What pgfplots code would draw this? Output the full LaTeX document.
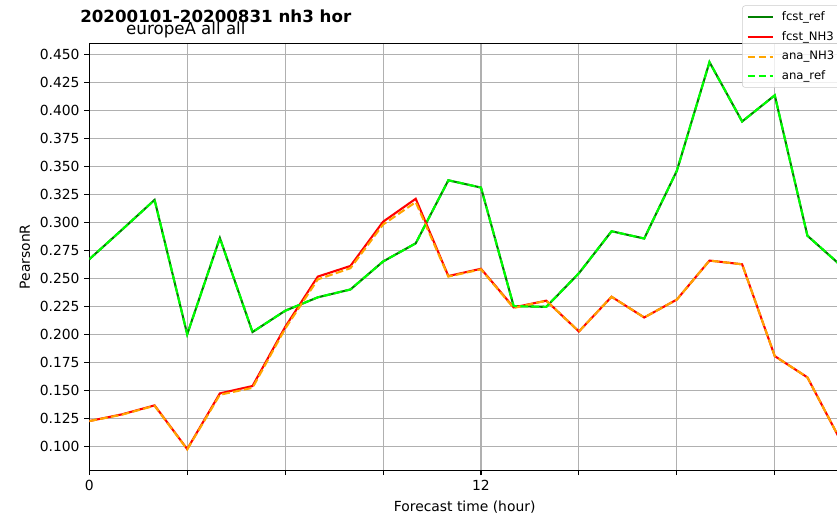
\documentclass[border=0pt]{standalone}
\usepackage{fontspec}
\setmainfont{DejaVu Sans}
\usepackage{pgfplots}
\usepackage{pgfplotstable}
\pgfplotsset{compat=1.18}

\definecolor{fcstref}{HTML}{008000}
\definecolor{fcstnh}{HTML}{FF0000}
\definecolor{ananh}{HTML}{FFA500}
\definecolor{anaref}{HTML}{00FF00}
\definecolor{gridgray}{HTML}{B0B0B0}

% PearsonR by forecast hour
\pgfplotstableread{
hour fcstref fcstnh ananh
0  0.2670 0.1225 0.1225
1  0.2933 0.1285 0.1282
2  0.3200 0.1365 0.1362
3  0.2000 0.0975 0.0972
4  0.2860 0.1472 0.1460
5  0.2020 0.1538 0.1522
6  0.2210 0.2065 0.2050
7  0.2330 0.2515 0.2490
8  0.2400 0.2610 0.2590
9  0.2650 0.3005 0.2980
10 0.2812 0.3210 0.3180
11 0.3375 0.2520 0.2515
12 0.3310 0.2585 0.2580
13 0.2252 0.2240 0.2235
14 0.2245 0.2300 0.2300
15 0.2545 0.2025 0.2025
16 0.2920 0.2335 0.2335
17 0.2855 0.2150 0.2150
18 0.3460 0.2310 0.2310
19 0.4430 0.2658 0.2658
20 0.3900 0.2625 0.2625
21 0.4134 0.1805 0.1805
22 0.2880 0.1615 0.1615
23 0.2620 0.1060 0.1060
}\scores

\begin{document}
\begin{tikzpicture}
\begin{axis}[
  scale only axis,
  width=540.6pt, height=307.4pt,
  xmin=0, xmax=23,
  ymin=0.0786, ymax=0.4598,
  xtick={0,3,...,21},
  xticklabels={0,,,,12,,,},
  ytick={0.100,0.125,0.150,0.175,0.200,0.225,0.250,0.275,0.300,0.325,0.350,0.375,0.400,0.425,0.450},
  yticklabel style={/pgf/number format/.cd,fixed,fixed zerofill,precision=3},
  /pgf/number format/assume math mode=true,
  ticklabel style={font=\fontsize{10}{12}\selectfont},
  tick align=outside,
  major tick length=3.5pt,
  tick style={black, line width=0.8pt},
  xtick pos=bottom, ytick pos=left,
  axis line style={line width=0.8pt},
  grid=major,
  grid style={gridgray, line width=0.8pt},
  xlabel={Forecast time (hour)},
  ylabel={PearsonR},
  label style={font=\fontsize{10}{12}\selectfont},
  xlabel style={at={(axis description cs:0.5,-0.086)}, anchor=center},
  ylabel style={at={(axis description cs:-0.0857,0.5)}, anchor=center},
  legend cell align=left,
  legend image code/.code={\draw[#1] (0pt,0pt) -- (18pt,0pt); \path (23pt,0pt);},
  legend style={
    at={(0.8695,1.0888)}, anchor=north west,
    font=\fontsize{8.4}{10}\selectfont,
    draw=black!20, rounded corners=2pt,
    fill=white, fill opacity=0.8, text opacity=1, draw opacity=1,
    inner sep=3pt, row sep=4.5pt,
    nodes={inner sep=1pt},
  },
]
\addplot[fcstref, line width=1.5pt] table[x=hour, y=fcstref] {\scores};
\addlegendentry{fcst\_ref}
\addplot[fcstnh, line width=1.5pt] table[x=hour, y=fcstnh] {\scores};
\addlegendentry{fcst\_NH3}
\addplot[ananh, line width=1.5pt, dash pattern=on 5.55pt off 2.4pt] table[x=hour, y=ananh] {\scores};
\addlegendentry{ana\_NH3}
\addplot[anaref, line width=1.5pt, dash pattern=on 5.55pt off 2.4pt] table[x=hour, y=fcstref] {\scores};
\addlegendentry{ana\_ref}
\end{axis}
\node[anchor=base west, font=\bfseries\fontsize{12}{14}\selectfont, inner sep=0pt]
  at ([xshift=-6.7pt, yshift=14.9pt]current axis.north west) {20200101-20200831 nh3 hor};
\node[anchor=base west, font=\fontsize{12}{14}\selectfont, inner sep=0pt]
  at ([xshift=26.4pt, yshift=6.5pt]current axis.north west) {europeA all all};
\pgfresetboundingbox
\path ([xshift=-64.3pt, yshift=-34.3pt]current axis.south west)
  rectangle ([xshift=-2.2pt, yshift=31.2pt]current axis.north east);
\end{tikzpicture}
\end{document}
